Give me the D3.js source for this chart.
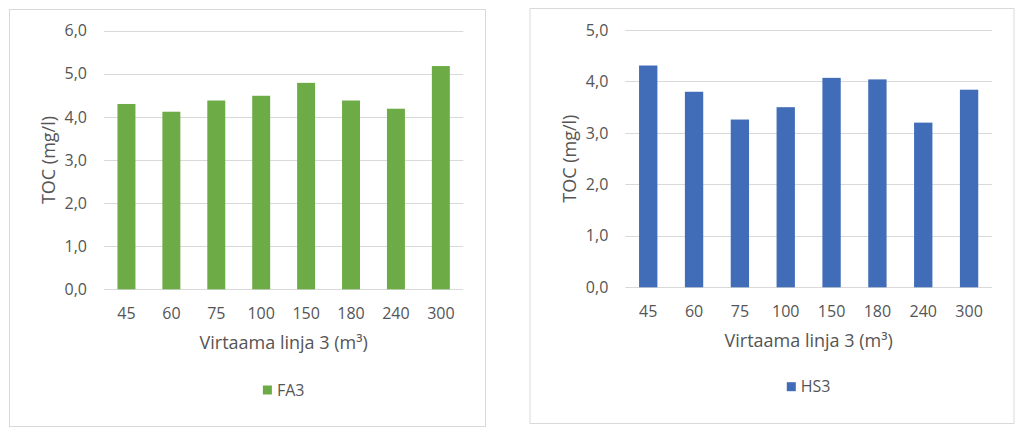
<!DOCTYPE html>
<html>
<head>
<meta charset="utf-8">
<script src="https://cdn.jsdelivr.net/npm/d3@7"></script>
<style>
  html, body { margin: 0; padding: 0; background: #ffffff; }
  svg text { font-family: "Open Sans", "Noto Sans", sans-serif; fill: #555555; }
</style>
</head>
<body>
<svg id="chart" width="1024" height="434"></svg>
<script>
const categories = ["45", "60", "75", "100", "150", "180", "240", "300"];
const fa3Values = [4.30, 4.12, 4.38, 4.49, 4.79, 4.38, 4.19, 5.18];
const hs3Values = [4.31, 3.80, 3.26, 3.50, 4.07, 4.04, 3.20, 3.84];
const fa3Ticks = [0, 1, 2, 3, 4, 5, 6];
const hs3Ticks = [0, 1, 2, 3, 4, 5];
const seriesNames = ["FA3", "HS3"];
const xTitle = "Virtaama linja 3 (m³)";
const yTitle = "TOC (mg/l)";

const fmt = d3.formatLocale({ decimal: ",", thousands: " ", grouping: [3], currency: ["", "€"] }).format(".1f");
const svg = d3.select("#chart");

function drawChart(cfg) {
  const g = svg.append("g");
  g.append("rect")
    .attr("x", cfg.frame[0] + 0.5).attr("y", cfg.frame[1] + 0.5)
    .attr("width", cfg.frame[2]).attr("height", cfg.frame[3])
    .attr("fill", "#ffffff").attr("stroke", "#d9d9d9").attr("stroke-width", 1);

  const x = d3.scaleBand().domain(cfg.categories).range([cfg.x0, cfg.x1])
    .paddingInner(0.6).paddingOuter(0.3);
  const y = d3.scaleLinear().domain([0, d3.max(cfg.ticks)]).range([cfg.yBottom, cfg.yTop]);

  g.append("g").selectAll("line").data(cfg.ticks).join("line")
    .attr("x1", cfg.x0).attr("x2", cfg.x1)
    .attr("y1", d => Math.round(y(d)) + 0.5).attr("y2", d => Math.round(y(d)) + 0.5)
    .attr("stroke", "#d9d9d9").attr("stroke-width", 1);

  g.append("g").selectAll("rect").data(cfg.values).join("rect")
    .attr("x", (d, i) => x(cfg.categories[i]))
    .attr("width", x.bandwidth())
    .attr("y", d => y(d))
    .attr("height", d => y(0) - y(d))
    .attr("fill", cfg.color);

  const yAxis = d3.axisLeft(y).tickValues(cfg.ticks).tickFormat(fmt).tickSize(0).tickPadding(0);
  const ya = g.append("g").attr("transform", `translate(${cfg.x0 - 17},0)`).call(yAxis);
  ya.select(".domain").remove();
  ya.selectAll("text").attr("font-size", 16).attr("fill", "#555555")
    .style("font-family", '"Open Sans", sans-serif');

  const xAxis = d3.axisBottom(x).tickSize(0).tickPadding(0);
  const xa = g.append("g").attr("transform", `translate(0,${cfg.xTickY})`).call(xAxis);
  xa.select(".domain").remove();
  xa.selectAll("text").attr("font-size", 16).attr("dy", "0.35em").attr("y", 0).attr("fill", "#555555")
    .style("font-family", '"Open Sans", sans-serif');

  const cx = (cfg.x0 + cfg.x1) / 2;
  g.append("text").attr("x", cx).attr("y", cfg.xTitleY).attr("dy", "0.35em")
    .attr("text-anchor", "middle").attr("font-size", 18).text(xTitle);

  g.append("text")
    .attr("transform", `translate(${cfg.yTitleX},${(cfg.yTop + cfg.yBottom) / 2}) rotate(-90)`)
    .attr("dy", "0.35em").attr("text-anchor", "middle").attr("font-size", 18).text(yTitle);

  const lg = g.append("g");
  const lt = lg.append("text").attr("y", cfg.legendY).attr("dy", "0.35em")
    .attr("font-size", 16).text(cfg.name);
  const tw = lt.node().getComputedTextLength();
  const sq = 9, gap = 5;
  const total = sq + gap + tw;
  const lx = cx - total / 2;
  lg.insert("rect", "text").attr("x", lx).attr("y", cfg.legendY - sq / 2)
    .attr("width", sq).attr("height", sq).attr("fill", cfg.color);
  lt.attr("x", lx + sq + gap);
}

drawChart({
  categories, values: fa3Values, ticks: fa3Ticks, name: seriesNames[0], color: "#6cab45",
  frame: [9, 9, 476, 417], x0: 104, x1: 463.3, yTop: 30.7, yBottom: 289.3,
  yTitleX: 48.3, xTickY: 313, xTitleY: 343, legendY: 390
});
drawChart({
  categories, values: hs3Values, ticks: hs3Ticks, name: seriesNames[1], color: "#416db8",
  frame: [529.5, 8, 484, 415], x0: 625.3, x1: 992, yTop: 30, yBottom: 287.3,
  yTitleX: 569.3, xTickY: 311.7, xTitleY: 340.7, legendY: 386.7
});
</script>
</body>
</html>
